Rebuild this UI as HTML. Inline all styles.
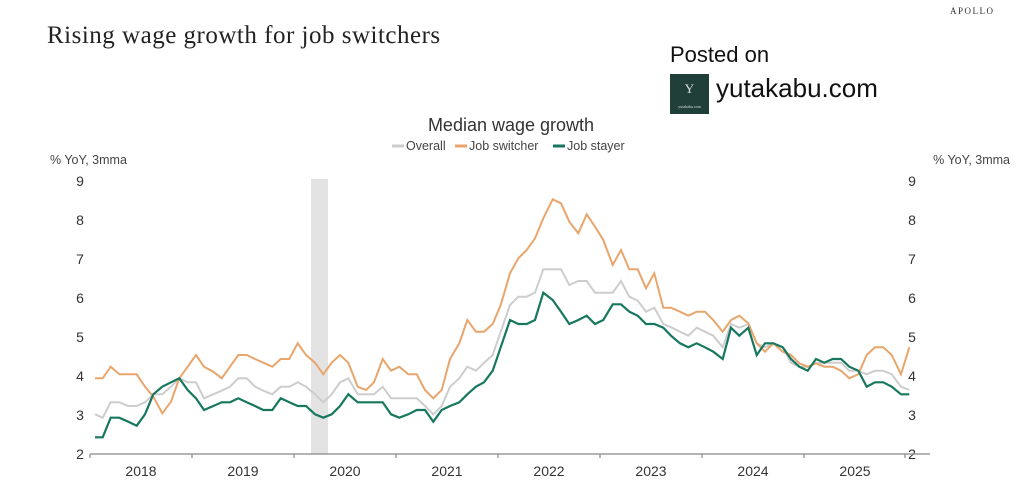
<!DOCTYPE html>
<html><head><meta charset="utf-8"><style>
body{margin:0;background:#fff;width:1024px;height:500px;overflow:hidden;position:relative;font-family:"Liberation Sans",sans-serif}
.t{position:absolute;white-space:nowrap}
</style></head><body>
<div class="t" style="left:950px;top:6px;font:9px 'Liberation Serif',serif;letter-spacing:1.5px;color:#333">APOLLO</div>
<div class="t" style="left:47px;top:22px;font:25px 'Liberation Serif',serif;color:#222;letter-spacing:0.5px">Rising wage growth for job switchers</div>
<div class="t" style="left:670px;top:42px;font:22px 'Liberation Sans',sans-serif;color:#111">Posted on</div>
<div class="t" style="left:670px;top:74px;width:39px;height:40px;background:#1f3f38;color:#ddd;font:13px 'Liberation Serif',serif;text-align:center;line-height:30px">Y<div style="font-size:4px;line-height:6px">yutakabu.com</div></div>
<div class="t" style="left:716px;top:73px;font:26px 'Liberation Sans',sans-serif;color:#111">yutakabu.com</div>
<svg width="1024" height="500" style="position:absolute;left:0;top:0" font-family="Liberation Sans, sans-serif">
<text x="511" y="131" font-size="18" text-anchor="middle" fill="#333">Median wage growth</text>
<g font-size="12.5" fill="#444">
<line x1="392" y1="146" x2="404" y2="146" stroke="#ccc" stroke-width="3"/><text x="406" y="150">Overall</text>
<line x1="455" y1="146" x2="467" y2="146" stroke="#e8a56c" stroke-width="3"/><text x="469" y="150">Job switcher</text>
<line x1="553" y1="146" x2="565" y2="146" stroke="#17775f" stroke-width="3"/><text x="567" y="150">Job stayer</text>
<text x="50" y="164">% YoY, 3mma</text>
<text x="1010" y="164" text-anchor="end">% YoY, 3mma</text>
</g>
<rect x="311" y="179" width="17" height="275" fill="#e3e3e3"/>
<g font-size="14" fill="#333" id="yl"></g>
<line x1="90" y1="454" x2="930" y2="454" stroke="#888" stroke-width="1.2"/>
<g stroke="#888" stroke-width="1.2" id="ticks"></g>
<g font-size="14" fill="#333" text-anchor="middle">
<text x="141" y="476">2018</text><text x="243" y="476">2019</text><text x="345" y="476">2020</text><text x="447" y="476">2021</text><text x="549" y="476">2022</text><text x="651" y="476">2023</text><text x="753" y="476">2024</text><text x="855" y="476">2025</text>
</g>
<polyline id="g" fill="none" stroke="#cdcdcd" stroke-width="2"/>
<polyline id="o" fill="none" stroke="#e8a56c" stroke-width="2"/>
<polyline id="s" fill="none" stroke="#17775f" stroke-width="2.2"/>
</svg>
<script>
var ns="http://www.w3.org/2000/svg";
var yl=document.getElementById('yl');
for(var v=2;v<=9;v++){var y=454-(v-2)*39+5;
[[80,'middle'],[912,'middle']].forEach(function(a){var t=document.createElementNS(ns,'text');t.setAttribute('x',a[0]);t.setAttribute('y',y);t.setAttribute('text-anchor',a[1]);t.textContent=v;yl.appendChild(t);});}
var tk=document.getElementById('ticks');
[90,192,294,396,498,600,702,804,905].forEach(function(x){var l=document.createElementNS(ns,'line');l.setAttribute('x1',x);l.setAttribute('x2',x);l.setAttribute('y1',454);l.setAttribute('y2',458);tk.appendChild(l);});
function pts(a,b){var r=[];for(var i=0;i<a.length;i+=2)r.push((60+a[i]/3).toFixed(1)+','+(170+a[i+1]/3).toFixed(1));for(var i=0;i<b.length;i+=2)r.push((500+b[i]/3).toFixed(1)+','+(170+b[i+1]/3).toFixed(1));return r.join(' ');}
var o2=[105,625,128,625,152,590,178,613,230,613,255,650,280,680,307,730,333,695,358,625,383,590,408,555,432,590,460,605,485,625,510,590,535,555,560,555,585,567,610,578,637,590,662,567,688,567,713,520,738,555,765,578,790,613,815,578,840,555,865,578,893,650,918,660,942,637,968,567,993,602,1018,590,1045,613,1070,613,1095,660,1120,685,1145,660,1170,567,1198,520,1222,450,1248,485,1272,485,1298,462,1322,405,1350,310,1375,265,1400,240,1425,205,1450,145,1478,88];
var o3=[183,100,208,155,235,190,260,133,285,170,310,210,338,285,363,240,388,298,413,298,438,355,463,310,490,413,513,413,540,425,565,437,590,425,615,425,640,450,668,485,693,450,718,437,745,460,770,520,795,545,820,520,848,545,873,555,898,580,923,590,948,580,973,590,998,590,1023,602,1048,625,1075,613,1100,555,1125,532,1150,532,1175,555,1203,613,1228,532];
var g2=[105,733,128,743,152,697,178,697,205,708,230,708,255,697,280,673,307,673,333,650,358,625,383,637,408,637,432,685,460,673,485,662,510,650,535,625,560,625,585,650,610,662,637,673,662,650,688,650,713,637,738,650,765,673,790,697,815,673,840,637,865,625,893,673,918,673,942,673,968,650,993,685,1018,685,1045,685,1070,685,1095,708,1120,733,1145,708,1170,650,1198,625,1222,590,1248,602,1272,578,1298,555,1322,485,1350,405,1375,380,1400,380,1425,368,1450,298,1478,298];
var g3=[183,298,208,345,235,333,260,333,285,368,310,368,338,368,363,333,388,380,413,392,438,425,463,413,490,462,513,472,540,485,565,497,590,473,615,485,640,497,668,532,693,462,718,473,745,462,770,520,795,532,820,520,848,532,873,578,898,590,923,590,948,580,973,578,998,578,1023,578,1048,602,1075,602,1100,613,1125,602,1150,602,1175,613,1203,650,1228,660];
var s2=[105,802,128,802,152,743,178,743,205,755,230,767,255,733,280,673,307,650,333,637,358,625,383,660,408,685,432,720,460,708,485,697,510,697,535,685,560,697,585,708,610,720,637,720,662,685,688,697,713,708,738,708,765,733,790,743,815,733,840,708,865,673,893,697,918,697,942,697,968,697,993,733,1018,743,1045,733,1070,720,1095,720,1120,755,1145,720,1170,708,1198,697,1222,673,1248,650,1272,637,1298,602,1322,532,1350,450,1375,462,1400,462,1425,450,1450,368];
var s3=[158,390,183,425,208,462,235,450,260,437,285,462,310,450,338,403,363,403,388,425,413,437,438,462,463,462,490,473,513,497,540,520,565,532,590,520,615,532,640,545,668,567,693,473,718,497,745,473,770,555,795,520,820,520,848,532,873,567,898,590,923,602,948,567,973,578,998,567,1023,567,1048,590,1075,602,1100,650,1125,637,1150,637,1175,650,1203,673,1228,673];
document.getElementById('o').setAttribute('points',pts(o2,o3));
document.getElementById('g').setAttribute('points',pts(g2,g3));
document.getElementById('s').setAttribute('points',pts(s2,s3));
</script>
</body></html>
